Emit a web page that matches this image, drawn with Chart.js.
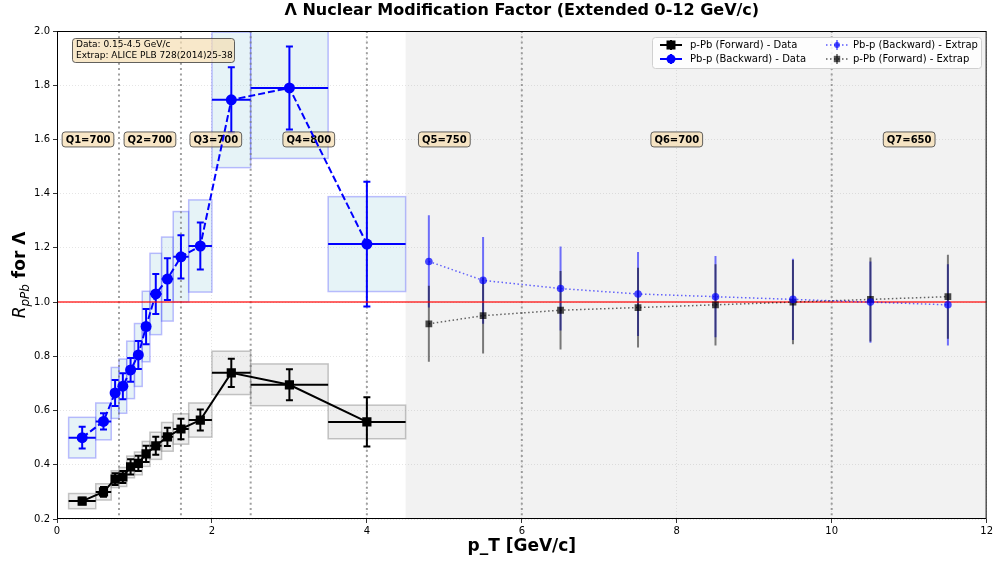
<!DOCTYPE html>
<html>
<head>
<meta charset="utf-8">
<script src="https://cdn.jsdelivr.net/npm/chart.js@4.4.0/dist/chart.umd.min.js"></script>
<style>
html, body { margin: 0; padding: 0; background: #fff; }
</style>
</head>
<body>
<canvas id="chart" width="995" height="562"></canvas>
<script>
// Measured bins (0.15-4.5 GeV/c)
const ptData = [0.325, 0.6, 0.75, 0.85, 0.95, 1.05, 1.15, 1.275, 1.425, 1.6, 1.85, 2.25, 3.0, 4.0];
const ptLow  = [0.15, 0.5, 0.7, 0.8, 0.9, 1.0, 1.1, 1.2, 1.35, 1.5, 1.7, 2.0, 2.5, 3.5];
const ptHigh = [0.5, 0.7, 0.8, 0.9, 1.0, 1.1, 1.2, 1.35, 1.5, 1.7, 2.0, 2.5, 3.5, 4.5];

// p-Pb (Forward) - Data
const rFwd    = [0.266, 0.30, 0.347, 0.355, 0.392, 0.405, 0.44, 0.47, 0.503, 0.532, 0.565, 0.739, 0.695, 0.558];
const statFwd = [0.012, 0.018, 0.022, 0.022, 0.028, 0.028, 0.03, 0.033, 0.034, 0.038, 0.039, 0.052, 0.057, 0.091];
const sysFwd  = [0.028, 0.03, 0.031, 0.035, 0.04, 0.042, 0.046, 0.05, 0.053, 0.056, 0.063, 0.08, 0.077, 0.062];

// Pb-p (Backward) - Data
const rBack    = [0.50, 0.56, 0.665, 0.69, 0.75, 0.805, 0.91, 1.03, 1.085, 1.167, 1.207, 1.746, 1.79, 1.214];
const statBack = [0.04, 0.03, 0.048, 0.048, 0.044, 0.052, 0.065, 0.074, 0.077, 0.08, 0.087, 0.12, 0.153, 0.23];
const sysBack  = [0.075, 0.068, 0.094, 0.10, 0.106, 0.116, 0.13, 0.15, 0.155, 0.167, 0.17, 0.25, 0.26, 0.175];

// Extrapolation (4.5-12 GeV/c)
const ptExtrap   = [4.8, 5.5, 6.5, 7.5, 8.5, 9.5, 10.5, 11.5];
const rBackExt   = [1.15, 1.08, 1.05, 1.03, 1.02, 1.01, 1.00, 0.99];
const errBackExt = [0.17, 0.16, 0.155, 0.155, 0.15, 0.15, 0.15, 0.15];
const rFwdExt    = [0.92, 0.95, 0.97, 0.98, 0.99, 1.00, 1.01, 1.02];
const errFwdExt  = [0.14, 0.14, 0.145, 0.147, 0.15, 0.155, 0.155, 0.155];

// Quantile edges and labels
const qEdges  = [0.8, 1.6, 2.5, 4.0, 6.0, 10.0];
const qLabels = ['Q1=700', 'Q2=700', 'Q3=700', 'Q4=800', 'Q5=750', 'Q6=700', 'Q7=650'];
const qLabelX = [0.4, 1.2, 2.05, 3.25, 5.0, 8.0, 11.0];
const qLabelY = 1.6;

const FONT = "'DejaVu Sans', sans-serif";

function toXY(xs, ys) {
    return xs.map((v, i) => ({ x: v, y: ys[i] }));
}

function drawBoxes(ctx, x, y, ys, sys, fill, edge) {
    ctx.fillStyle = fill;
    ctx.strokeStyle = edge;
    ctx.lineWidth = 1.5;
    ptData.forEach((v, i) => {
        const l = x.getPixelForValue(ptLow[i]), r = x.getPixelForValue(ptHigh[i]);
        const t = y.getPixelForValue(ys[i] + sys[i]), b = y.getPixelForValue(ys[i] - sys[i]);
        ctx.fillRect(l, t, r - l, b - t);
        ctx.strokeRect(l, t, r - l, b - t);
    });
}

function drawErrors(ctx, x, y, xs, ys, err, withX, color, lw, cap) {
    ctx.strokeStyle = color;
    ctx.lineWidth = lw;
    xs.forEach((v, i) => {
        const px = x.getPixelForValue(v), py = y.getPixelForValue(ys[i]);
        const t = y.getPixelForValue(ys[i] + err[i]), b = y.getPixelForValue(ys[i] - err[i]);
        ctx.beginPath();
        ctx.moveTo(px, t); ctx.lineTo(px, b);
        if (cap) {
            ctx.moveTo(px - cap, t); ctx.lineTo(px + cap, t);
            ctx.moveTo(px - cap, b); ctx.lineTo(px + cap, b);
        }
        if (withX) {
            ctx.moveTo(x.getPixelForValue(ptLow[i]), py);
            ctx.lineTo(x.getPixelForValue(ptHigh[i]), py);
        }
        ctx.stroke();
    });
}

function roundBox(ctx, l, t, w, h, r) {
    ctx.beginPath();
    ctx.moveTo(l + r, t);
    ctx.arcTo(l + w, t, l + w, t + h, r);
    ctx.arcTo(l + w, t + h, l, t + h, r);
    ctx.arcTo(l, t + h, l, t, r);
    ctx.arcTo(l, t, l + w, t, r);
    ctx.closePath();
}

const overlay = {
    id: 'overlay',
    beforeDatasetsDraw(chart) {
        const { ctx, chartArea: a, scales: { x, y } } = chart;
        ctx.save();
        ctx.beginPath();
        ctx.rect(a.left, a.top, a.right - a.left, a.bottom - a.top);
        ctx.clip();

        // extrapolated region
        const x0 = x.getPixelForValue(4.5), x1 = x.getPixelForValue(12);
        ctx.fillStyle = 'rgba(128,128,128,0.1)';
        ctx.fillRect(x0, a.top, x1 - x0, a.bottom - a.top);

        // systematic boxes
        drawBoxes(ctx, x, y, rBack, sysBack, 'rgba(173,216,230,0.3)', 'rgba(0,0,255,0.25)');
        drawBoxes(ctx, x, y, rFwd, sysFwd, 'rgba(200,200,200,0.3)', 'rgba(128,128,128,0.45)');

        // quantile dividers
        ctx.strokeStyle = 'rgba(128,128,128,0.75)';
        ctx.lineWidth = 2;
        ctx.setLineDash([2, 3.3]);
        qEdges.forEach(q => {
            const px = x.getPixelForValue(q);
            ctx.beginPath();
            ctx.moveTo(px, a.top); ctx.lineTo(px, a.bottom);
            ctx.stroke();
        });
        ctx.setLineDash([]);

        // stat errors
        drawErrors(ctx, x, y, ptData, rBack, statBack, true, '#0000ff', 2, 3.5);
        drawErrors(ctx, x, y, ptData, rFwd, statFwd, true, '#000000', 2, 3.5);
        drawErrors(ctx, x, y, ptExtrap, rBackExt, errBackExt, false, 'rgba(0,0,255,0.55)', 2, 0);
        drawErrors(ctx, x, y, ptExtrap, rFwdExt, errFwdExt, false, 'rgba(0,0,0,0.5)', 2, 0);

        // R = 1 reference
        const y1 = y.getPixelForValue(1.0);
        ctx.strokeStyle = 'rgba(255,0,0,0.8)';
        ctx.lineWidth = 1.5;
        ctx.beginPath();
        ctx.moveTo(a.left, y1); ctx.lineTo(a.right, y1);
        ctx.stroke();

        // quantile labels
        ctx.font = 'bold 10px ' + FONT;
        ctx.textAlign = 'center';
        ctx.textBaseline = 'middle';
        qLabels.forEach((s, i) => {
            const px = x.getPixelForValue(qLabelX[i]), py = y.getPixelForValue(qLabelY);
            const w = ctx.measureText(s).width + 7;
            roundBox(ctx, px - w / 2, py - 7.5, w, 15, 3);
            ctx.fillStyle = 'rgba(245,222,179,0.75)';
            ctx.fill();
            ctx.strokeStyle = 'rgba(60,60,60,0.8)';
            ctx.lineWidth = 1;
            ctx.stroke();
            ctx.fillStyle = '#000';
            ctx.fillText(s, px, py + 0.5);
        });
        ctx.restore();
    },
    afterDraw(chart) {
        const { ctx, chartArea: a } = chart;
        ctx.save();

        // frame
        ctx.strokeStyle = '#000';
        ctx.lineWidth = 1;
        ctx.strokeRect(a.left + 0.5, a.top + 0.5, a.right - a.left - 1, a.bottom - a.top - 1);

        // title
        ctx.fillStyle = '#000';
        ctx.textAlign = 'center';
        ctx.textBaseline = 'middle';
        ctx.font = 'bold 16px ' + FONT;
        ctx.fillText('Λ Nuclear Modification Factor (Extended 0-12 GeV/c)', (a.left + a.right) / 2, 11);

        // x axis title
        ctx.font = 'bold 17px ' + FONT;
        ctx.fillText('p_T [GeV/c]', (a.left + a.right) / 2, 547);

        // y axis title
        ctx.translate(19, (a.top + a.bottom) / 2);
        ctx.rotate(-Math.PI / 2);
        ctx.textAlign = 'left';
        ctx.textBaseline = 'alphabetic';
        const fR = 'italic 17px ' + FONT, fS = 'italic 12px ' + FONT, fB = 'bold 17px ' + FONT;
        ctx.font = fR; const wR = ctx.measureText('R').width;
        ctx.font = fS; const wS = ctx.measureText('pPb').width;
        ctx.font = fB; const wB = ctx.measureText(' for Λ').width;
        let cx = -(wR + wS + wB) / 2;
        ctx.font = fR; ctx.fillText('R', cx, 6); cx += wR;
        ctx.font = fS; ctx.fillText('pPb', cx, 10); cx += wS;
        ctx.font = fB; ctx.fillText(' for Λ', cx, 6);
        ctx.setTransform(1, 0, 0, 1, 0, 0);

        // info box
        roundBox(ctx, 72.5, 38.5, 162, 24, 3);
        ctx.fillStyle = 'rgba(245,222,179,0.7)';
        ctx.fill();
        ctx.strokeStyle = 'rgba(60,60,60,0.8)';
        ctx.lineWidth = 1;
        ctx.stroke();
        ctx.fillStyle = '#000';
        ctx.font = '9px ' + FONT;
        ctx.textAlign = 'left';
        ctx.textBaseline = 'middle';
        ctx.fillText('Data: 0.15-4.5 GeV/c', 76, 45);
        ctx.fillText('Extrap: ALICE PLB 728(2014)25-38', 76, 55.5);

        // legend
        roundBox(ctx, 652.5, 37.5, 329, 31, 3);
        ctx.fillStyle = 'rgba(255,255,255,0.85)';
        ctx.fill();
        ctx.strokeStyle = '#d0d0d0';
        ctx.stroke();
        const items = [
            { x: 671, y: 45, text: 'p-Pb (Forward) - Data', color: '#000', dash: [], shape: 'rect', r: 4.5, lw: 2 },
            { x: 671, y: 59, text: 'Pb-p (Backward) - Data', color: '#0000ff', dash: [], shape: 'circle', r: 4.5, lw: 2 },
            { x: 837, y: 45, text: 'Pb-p (Backward) - Extrap', color: 'rgba(0,0,255,0.65)', dash: [1.5, 2.5], shape: 'circle', r: 3, lw: 1.5 },
            { x: 837, y: 59, text: 'p-Pb (Forward) - Extrap', color: 'rgba(0,0,0,0.65)', dash: [1.5, 2.5], shape: 'rect', r: 3.2, lw: 1.5 }
        ];
        ctx.font = '10px ' + FONT;
        items.forEach(it => {
            ctx.strokeStyle = it.color;
            ctx.fillStyle = it.color;
            ctx.lineWidth = it.lw;
            ctx.setLineDash(it.dash);
            ctx.beginPath();
            ctx.moveTo(it.x - 11, it.y); ctx.lineTo(it.x + 11, it.y);
            ctx.stroke();
            ctx.setLineDash([]);
            ctx.beginPath();
            ctx.moveTo(it.x, it.y - 5); ctx.lineTo(it.x, it.y + 5);
            ctx.stroke();
            ctx.beginPath();
            if (it.shape === 'rect') ctx.rect(it.x - it.r, it.y - it.r, 2 * it.r, 2 * it.r);
            else ctx.arc(it.x, it.y, it.r, 0, Math.PI * 2);
            ctx.fill();
            ctx.fillStyle = '#000';
            ctx.fillText(it.text, it.x + (it.x > 800 ? 16 : 19), it.y + 0.5);
        });
        ctx.restore();
    }
};

const axisFont = { family: FONT, size: 10 };

new Chart(document.getElementById('chart'), {
    type: 'scatter',
    data: {
        datasets: [
            {
                label: 'p-Pb (Forward) - Data',
                data: toXY(ptData, rFwd),
                showLine: true,
                borderColor: '#000',
                backgroundColor: '#000',
                borderWidth: 2,
                pointStyle: 'rect',
                pointRadius: 6.5,
                pointBorderWidth: 0
            },
            {
                label: 'Pb-p (Backward) - Data',
                data: toXY(ptData, rBack),
                showLine: true,
                borderColor: '#0000ff',
                backgroundColor: '#0000ff',
                borderWidth: 2,
                borderDash: [7, 3],
                pointStyle: 'circle',
                pointRadius: 5.5,
                pointBorderWidth: 0
            },
            {
                label: 'Pb-p (Backward) - Extrap',
                data: toXY(ptExtrap, rBackExt),
                showLine: true,
                borderColor: 'rgba(0,0,255,0.6)',
                backgroundColor: 'rgba(0,0,255,0.7)',
                borderWidth: 1.5,
                borderDash: [1.5, 2.5],
                pointStyle: 'circle',
                pointRadius: 3.8,
                pointBorderWidth: 0
            },
            {
                label: 'p-Pb (Forward) - Extrap',
                data: toXY(ptExtrap, rFwdExt),
                showLine: true,
                borderColor: 'rgba(0,0,0,0.6)',
                backgroundColor: 'rgba(0,0,0,0.7)',
                borderWidth: 1.5,
                borderDash: [1.5, 2.5],
                pointStyle: 'rect',
                pointRadius: 4.8,
                pointBorderWidth: 0
            }
        ]
    },
    options: {
        responsive: false,
        animation: false,
        devicePixelRatio: 1,
        layout: { padding: { left: 0, right: 7, top: 31, bottom: 0 } },
        plugins: { legend: { display: false }, tooltip: { enabled: false } },
        scales: {
            x: {
                type: 'linear', min: 0, max: 12,
                afterFit: s => { s.height = 43; },
                ticks: { stepSize: 2, font: axisFont, color: '#000', padding: 2, maxRotation: 0 },
                grid: { color: 'rgba(0,0,0,0.13)', lineWidth: 0.8, tickColor: '#000', tickLength: 4 },
                border: { display: false, dash: [1, 2] }
            },
            y: {
                type: 'linear', min: 0.2, max: 2.0,
                afterFit: s => { s.width = 57; },
                ticks: { stepSize: 0.2, font: axisFont, color: '#000', padding: 3, callback: v => v.toFixed(1) },
                grid: { color: 'rgba(0,0,0,0.13)', lineWidth: 0.8, tickColor: '#000', tickLength: 4 },
                border: { display: false, dash: [1, 2] }
            }
        }
    },
    plugins: [overlay]
});
</script>
</body>
</html>
